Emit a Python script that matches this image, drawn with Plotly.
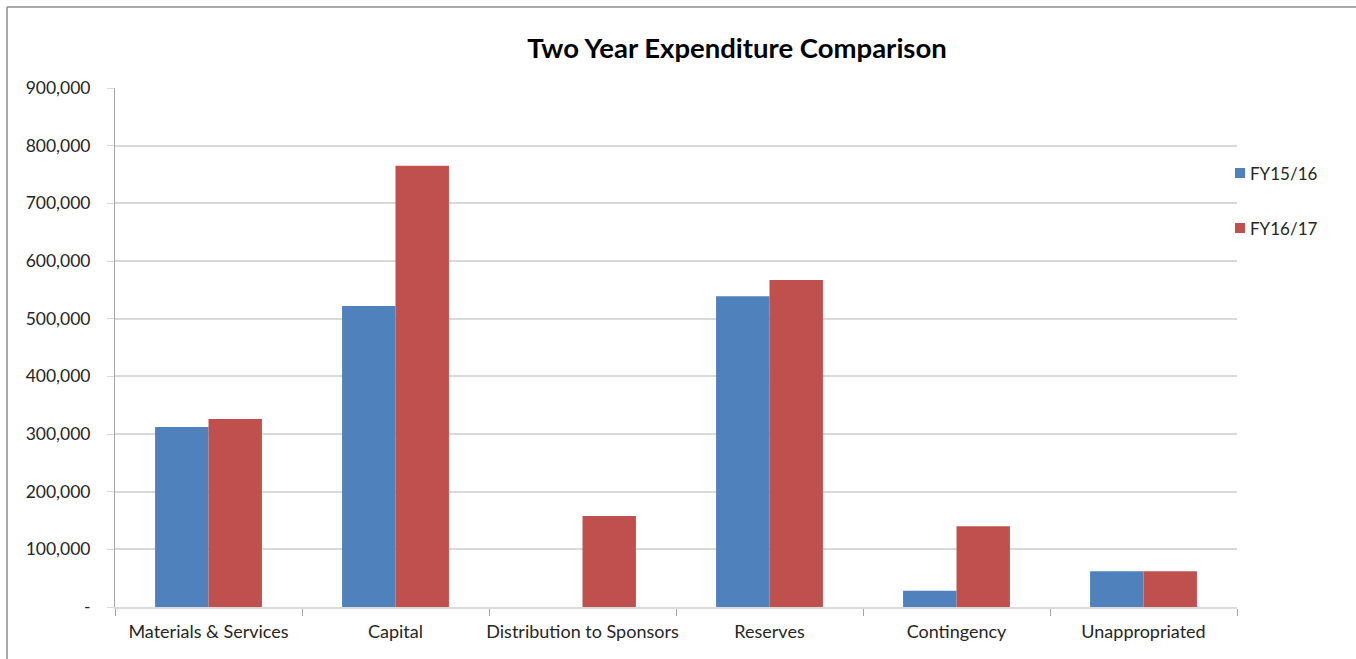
import plotly.graph_objects as go

categories = ["Materials & Services", "Capital", "Distribution to Sponsors",
              "Reserves", "Contingency", "Unappropriated"]
fy1516 = [312000, 522000, 0, 539000, 28000, 62000]
fy1617 = [326000, 765000, 158000, 567000, 140000, 62000]
series_names = ["FY15/16", "FY16/17"]
series_colors = ["#4F81BD", "#C0504D"]
y_tickvals = [0, 100000, 200000, 300000, 400000, 500000, 600000, 700000, 800000, 900000]
y_ticktext = ["-", "100,000", "200,000", "300,000", "400,000", "500,000",
              "600,000", "700,000", "800,000", "900,000"]

W, H = 1356, 659
L, R, T, B = 115, 119, 88, 52
pw, ph = W - L - R, H - T - B

font = "Lato, Calibri, 'Liberation Sans', sans-serif"

fig = go.Figure()
for name, vals, col in zip(series_names, [fy1516, fy1617], series_colors):
    fig.add_trace(go.Bar(x=categories, y=vals, name=name,
                         marker=dict(color=col, line=dict(width=0)),
                         showlegend=False))

def px_x(p):
    return (p - L) / pw

def px_y(p):
    return (H - B - p) / ph

# chart border (left and top edges visible)
fig.add_shape(type="line", xref="paper", yref="paper", x0=px_x(7), x1=px_x(7),
              y0=px_y(7), y1=-1, line=dict(color="#8c8c8c", width=1.5))
fig.add_shape(type="line", xref="paper", yref="paper", x0=px_x(7), x1=2,
              y0=px_y(7), y1=px_y(7), line=dict(color="#8c8c8c", width=1.5))

# legend (drawn as keys + labels)
legend_y = [173, 228]
for name, col, ly in zip(series_names, series_colors, legend_y):
    fig.add_shape(type="rect", xref="paper", yref="paper",
                  x0=px_x(1235), x1=px_x(1245), y0=px_y(ly - 5), y1=px_y(ly + 5),
                  fillcolor=col, line=dict(width=0))
    fig.add_annotation(xref="paper", yref="paper", x=px_x(1248), y=px_y(ly),
                       xanchor="left", yanchor="middle", showarrow=False,
                       text=name, font=dict(family=font, size=17, color="#262626"))

fig.update_layout(
    width=W, height=H,
    margin=dict(l=L, r=R, t=T, b=B, autoexpand=False),
    paper_bgcolor="white", plot_bgcolor="white",
    barmode="group", bargap=1.5 / 3.5, bargroupgap=0,
    font=dict(family=font, size=17, color="#262626"),
    title=dict(text="<b>Two Year Expenditure Comparison</b>",
               x=737 / W, xanchor="center", xref="container",
               y=1 - 48 / H, yanchor="middle", yref="container",
               font=dict(family=font, size=27.5, color="#000000")),
    showlegend=False,
)
fig.update_xaxes(showgrid=False, showline=True, linecolor="#d9d9d9", linewidth=1.5,
                 ticks="outside", tickson="boundaries", ticklen=7, tickcolor="#a6a6a6",
                 tickangle=0, ticklabelstandoff=8,
                 tickfont=dict(family=font, size=18, color="#262626"))
fig.update_yaxes(range=[0, 900000], tickvals=y_tickvals, ticktext=y_ticktext,
                 showgrid=True, gridcolor="#d9d9d9", gridwidth=1.5,
                 showline=True, linecolor="#a6a6a6", linewidth=1,
                 ticks="outside", ticklen=7, tickcolor="#d9d9d9",
                 zeroline=False, ticklabelstandoff=13,
                 tickfont=dict(family=font, size=17.5, color="#262626"))

fig.write_html("out.html", config={"displayModeBar": False},
               post_script="document.body.style.margin='0px';")
